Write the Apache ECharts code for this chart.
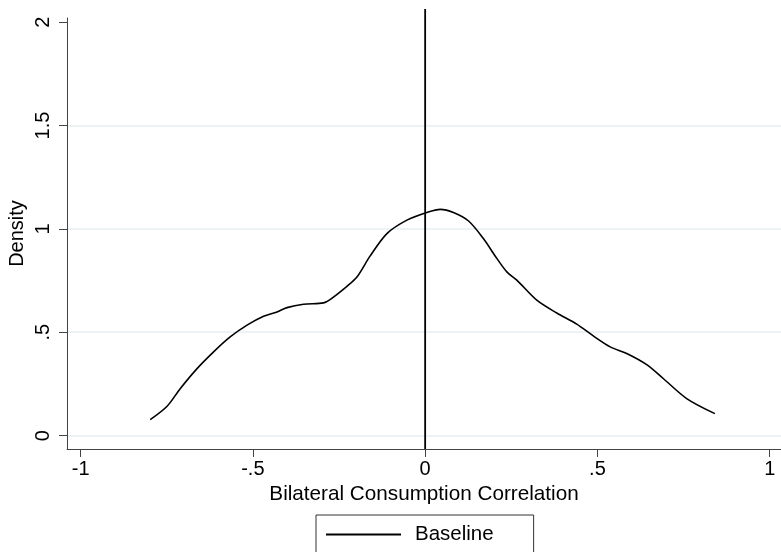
<!DOCTYPE html>
<html>
<head>
<meta charset="utf-8">
<script src="https://cdn.jsdelivr.net/npm/echarts@6/dist/echarts.min.js"></script>
<style>
  html, body { margin: 0; padding: 0; background: #fff; }
  #chart { width: 781px; height: 552px; }
</style>
</head>
<body>
<div id="chart"></div>
<script>
// kernel density
const xs = [-0.798, -0.749, -0.711, -0.662, -0.614, -0.566, -0.517, -0.469, -0.430, -0.401,
  -0.353, -0.295, -0.276, -0.227, -0.198, -0.160, -0.111, -0.053, 0.005, 0.044,
  0.082, 0.126, 0.169, 0.208, 0.237, 0.266, 0.324, 0.382, 0.440, 0.488,
  0.537, 0.585, 0.643, 0.691, 0.759, 0.841];
const density = [0.077, 0.142, 0.227, 0.324, 0.405, 0.477, 0.534, 0.577, 0.598, 0.619,
  0.635, 0.642, 0.658, 0.722, 0.767, 0.868, 0.977, 1.042, 1.079, 1.094,
  1.079, 1.038, 0.953, 0.857, 0.792, 0.752, 0.655, 0.593, 0.539, 0.482,
  0.429, 0.397, 0.343, 0.276, 0.179, 0.106];
const xTicks = [-1, -0.5, 0, 0.5, 1];
const yTicks = [0, 0.5, 1, 1.5, 2];
const yGrid = [0, 0.5, 1, 1.5];
// vertical reference line at x = 0
const xLineX = [0, 0];
const xLineY = [-0.065, 2.063];

const font = "'Liberation Sans', Arial, sans-serif";
const stataLabel = v => (v === 0 ? "0" : String(v).replace("0.", "."));

const chart = echarts.init(document.getElementById("chart"));
const yMin = -0.065, yMax = 2.02;
chart.setOption({
  animation: false,
  textStyle: { fontFamily: font, color: "#000" },
  grid: { left: 67, right: 0, top: 18, bottom: 103, outerBoundsMode: "none", containLabel: false },
  legend: {
    top: 515,
    left: 316,
    data: [{ name: "Baseline", icon: "rect" }],
    itemWidth: 75,
    itemHeight: 2,
    itemStyle: { color: "#000" },
    padding: [9, 40, 30, 10],
    borderColor: "#333",
    borderWidth: 1,
    textStyle: { fontSize: 20.5, color: "#000", fontFamily: font, padding: [0, 0, 0, 9] }
  },
  xAxis: {
    type: "value",
    min: -1.0395,
    max: 1.0328,
    name: "Bilateral Consumption Correlation",
    nameLocation: "middle",
    nameGap: 35,
    nameTextStyle: { fontSize: 20.7, color: "#000" },
    axisLine: { onZero: false, lineStyle: { color: "#444", width: 1 } },
    axisTick: { customValues: xTicks, length: 8, lineStyle: { color: "#444" } },
    axisLabel: { customValues: xTicks, formatter: stataLabel, fontSize: 20, color: "#000", margin: 10 },
    splitLine: { show: false }
  },
  yAxis: [
    {
      type: "value",
      min: yMin,
      max: yMax,
      name: "Density",
      nameLocation: "middle",
      nameGap: 40,
      nameMoveOverlap: false,
      nameTextStyle: { fontSize: 20, color: "#000" },
      axisLine: { show: true, onZero: false, lineStyle: { color: "#444", width: 1 } },
      axisTick: { show: true, customValues: yTicks, length: 8, lineStyle: { color: "#444" } },
      axisLabel: { customValues: yTicks, formatter: stataLabel, rotate: 90, fontSize: 20, color: "#000", margin: 14 },
      splitLine: { show: false }
    },
    {
      type: "value",
      min: yMin,
      max: yMax,
      position: "left",
      axisLine: { show: false, onZero: false },
      axisTick: { show: false, customValues: yGrid },
      axisLabel: { show: false, customValues: yGrid },
      splitLine: { show: true, lineStyle: { color: "#e6eff0", width: 1.5 } }
    }
  ],
  series: [
    {
      name: "Baseline",
      type: "line",
      data: xs.map((x, i) => [x, density[i]]),
      smooth: 0.3,
      symbol: "none",
      lineStyle: { color: "#000", width: 1.6 },
      itemStyle: { color: "#000" },
      z: 3
    },
    {
      name: "xline",
      type: "line",
      data: xLineX.map((x, i) => [x, xLineY[i]]),
      symbol: "none",
      clip: false,
      lineStyle: { color: "#000", width: 1.8 },
      z: 2
    }
  ]
});
</script>
</body>
</html>
